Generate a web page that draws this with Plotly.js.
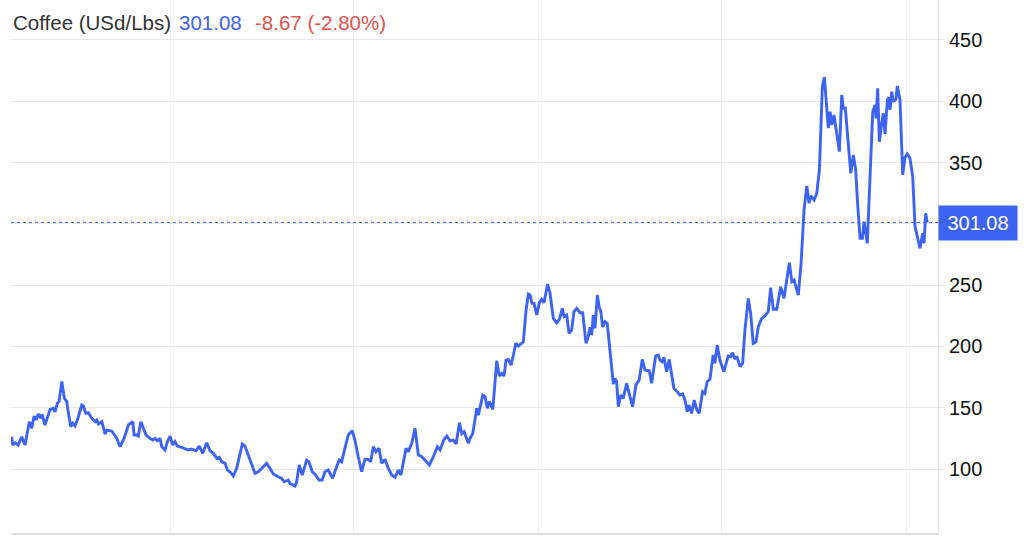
<!DOCTYPE html>
<html>
<head>
<meta charset="utf-8">
<script src="https://cdn.plot.ly/plotly-3.0.1.min.js"></script>
<style>
  html, body { margin: 0; padding: 0; background: #ffffff; }
  #chart { width: 1024px; height: 545px; }
</style>
</head>
<body>
<div id="chart"></div>
<script>
// Time in decimal years
const times = [
  2016.279,2016.290,2016.315,2016.351,2016.388,2016.424,2016.471,2016.497,2016.522,2016.543,
  2016.568,2016.595,2016.609,2016.641,2016.696,2016.732,2016.750,2016.775,2016.793,2016.823,
  2016.851,2016.877,2016.895,2016.921,2016.942,2016.967,2016.992,2017.040,2017.058,2017.084,
  2017.112,2017.149,2017.185,2017.203,2017.221,2017.258,2017.293,2017.312,2017.366,2017.402,
  2017.421,2017.457,2017.500,2017.547,2017.595,2017.609,2017.638,2017.655,2017.682,2017.710,
  2017.739,2017.783,2017.812,2017.837,2017.862,2017.891,2017.910,2017.946,2017.971,2018.000,
  2018.029,2018.054,2018.079,2018.127,2018.163,2018.199,2018.236,2018.283,2018.318,2018.355,
  2018.399,2018.435,2018.471,2018.508,2018.536,2018.562,2018.598,2018.623,2018.660,2018.688,
  2018.725,2018.761,2018.786,2018.815,2018.851,2018.888,2018.924,2018.960,2018.997,2019.051,
  2019.087,2019.123,2019.177,2019.214,2019.242,2019.286,2019.304,2019.359,2019.377,2019.405,
  2019.438,2019.486,2019.511,2019.547,2019.584,2019.620,2019.655,2019.685,2019.721,2019.768,
  2019.812,2019.840,2019.866,2019.902,2019.938,2019.982,2020.011,2020.047,2020.084,2020.120,
  2020.155,2020.182,2020.210,2020.239,2020.272,2020.301,2020.337,2020.373,2020.410,2020.446,
  2020.482,2020.511,2020.565,2020.590,2020.627,2020.663,2020.699,2020.736,2020.772,2020.818,
  2020.862,2020.905,2020.935,2020.978,2021.008,2021.043,2021.079,2021.109,2021.145,2021.171,
  2021.196,2021.225,2021.242,2021.261,2021.290,2021.334,2021.351,2021.399,2021.424,2021.449,
  2021.471,2021.508,2021.551,2021.579,2021.605,2021.630,2021.652,2021.677,2021.707,2021.732,
  2021.758,2021.786,2021.812,2021.840,2021.870,2021.895,2021.913,2021.935,2021.957,2021.986,
  2022.014,2022.040,2022.065,2022.105,2022.130,2022.166,2022.203,2022.232,2022.264,2022.283,
  2022.312,2022.337,2022.366,2022.391,2022.421,2022.457,2022.486,2022.522,2022.547,2022.565,
  2022.584,2022.601,2022.620,2022.645,2022.666,2022.682,2022.703,2022.728,2022.753,2022.783,
  2022.819,2022.837,2022.855,2022.873,2022.899,2022.927,2022.964,2023.000,2023.029,2023.065,
  2023.101,2023.134,2023.163,2023.210,2023.236,2023.279,2023.308,2023.326,2023.351,2023.370,
  2023.399,2023.427,2023.453,2023.478,2023.514,2023.543,2023.573,2023.598,2023.623,2023.641,
  2023.671,2023.699,2023.725,2023.753,2023.790,2023.815,2023.840,2023.870,2023.905,2023.924,
  2023.949,2023.978,2024.022,2024.068,2024.095,2024.116,2024.141,2024.166,2024.196,2024.225,
  2024.250,2024.286,2024.312,2024.340,2024.370,2024.395,2024.432,2024.467,2024.503,2024.529,
  2024.558,2024.595,2024.638,2024.674,2024.703,2024.732,2024.758,2024.783,2024.829,2024.859,
  2024.891,2024.921,2024.946,2024.964,2025.000,2025.029,2025.058,2025.090,2025.112,2025.138,
  2025.155,2025.174,2025.192,2025.217,2025.247,2025.275,2025.301,2025.318,2025.340,2025.373,
  2025.399,2025.427,2025.453,2025.471,2025.500,2025.525,2025.543,2025.579,2025.609,2025.638,
  2025.663,2025.674,2025.692,2025.710,2025.736,2025.753,2025.772,2025.797,2025.815,2025.826,
  2025.845,2025.862,2025.891,2025.905,2025.935,2025.964,2025.989,2026.014,2026.043,2026.073,
  2026.098,2026.123,2026.152,2026.182,2026.196,2026.214,2026.231
];

// Price in US cents per pound
const prices = [
  126.3,119.6,121.4,119.6,126.3,119.6,138.6,133.2,143.2,140.0,
  144.9,141.3,144.6,135.9,148.7,149.5,146.7,153.6,155.0,171.5,
  157.7,155.0,145.4,134.5,137.3,135.1,140.0,152.2,151.4,145.4,
  145.9,141.3,138.6,140.0,136.7,138.6,128.5,131.8,131.0,126.3,
  125.0,118.2,125.0,135.9,138.6,127.7,127.7,126.9,138.6,133.2,
  127.7,125.0,123.6,125.0,123.0,125.0,118.2,115.5,122.3,126.9,
  119.6,122.3,118.7,117.7,116.9,115.5,116.3,114.9,118.7,112.8,
  121.4,114.9,112.8,108.7,109.5,105.9,104.6,99.2,97.0,94.3,
  100.6,111.4,120.4,118.7,111.4,104.6,96.5,97.8,100.6,104.6,
  100.6,95.9,93.7,92.4,89.6,91.0,88.3,86.1,89.6,103.3,
  95.1,107.3,105.9,97.8,95.1,91.0,91.0,97.8,99.2,92.4,
  101.9,107.3,105.9,116.9,127.7,131.2,123.6,110.0,97.8,107.9,
  107.9,105.9,118.2,114.1,116.9,104.6,107.9,100.6,95.1,93.2,
  99.2,95.1,116.9,114.1,121.0,133.2,111.4,110.0,107.3,103.3,
  110.0,118.2,115.5,124.2,126.9,123.0,123.6,120.4,137.8,128.9,
  130.4,125.0,121.0,125.0,128.9,149.5,144.0,160.3,159.0,149.5,
  155.0,148.7,188.3,175.9,178.0,175.9,188.9,189.4,184.8,193.0,
  202.5,200.3,202.0,203.8,229.7,242.7,241.9,235.1,235.1,225.6,
  235.7,238.4,235.7,250.9,243.8,222.9,219.3,222.1,231.1,224.3,
  225.6,210.7,213.4,228.3,231.1,227.5,227.5,202.5,208.0,215.6,
  209.3,225.6,214.8,241.9,231.9,229.1,216.0,220.2,218.8,194.0,
  169.2,174.0,171.2,150.8,160.3,157.6,169.9,159.0,150.8,168.5,
  172.6,189.4,180.8,180.2,169.9,192.2,193.0,188.9,187.5,191.1,
  179.4,189.4,178.0,165.8,163.1,160.3,161.2,156.3,146.7,152.2,
  145.4,156.3,148.7,145.4,163.1,161.7,171.2,173.2,193.0,186.2,
  201.1,188.9,179.4,192.2,191.6,194.9,190.3,191.1,183.5,186.2,
  213.4,239.2,227.0,202.5,203.8,216.1,222.9,224.8,228.3,247.9,
  230.3,230.3,248.7,239.2,254.2,268.3,252.8,254.2,241.9,267.8,
  311.3,330.9,316.8,322.7,319.5,324.9,343.9,411.9,419.6,398.4,
  378.0,391.5,380.6,388.8,371.1,358.9,405.1,394.3,394.3,365.7,
  341.2,356.2,343.9,319.5,288.2,288.2,301.8,284.1,343.9,391.5,
  397.0,386.1,410.6,367.0,382.0,390.2,373.3,401.1,403.2,392.9,
  407.8,399.7,401.6,412.5,401.1,339.9,354.3,357.0,353.5,338.5,
  297.7,289.5,280.0,292.3,284.1,308.6,301.08
];

const yTicks = [100, 150, 200, 250, 300, 350, 400, 450];
const yTickText = ['100', '150', '200', '250', '', '350', '400', '450'];
const lastPrice = 301.08;
const titleName = 'Coffee (USd/Lbs)';
const titlePrice = '301.08';
const titleChange = '-8.67 (-2.80%)';

function yearToDate(t) {
  const y = Math.floor(t);
  const a = Date.UTC(y, 0, 1), b = Date.UTC(y + 1, 0, 1);
  return new Date(a + (t - y) * (b - a)).toISOString().slice(0, 19).replace('T', ' ');
}

const dates = times.map(yearToDate);

const W = 1024, L = 11, R = 938;
const px = p => (p - L) / (R - L);

const blue = '#3d63f2';

const trace = {
  type: 'scatter',
  mode: 'lines',
  x: dates,
  y: prices,
  line: { color: blue, width: 2.9 },
  hoverinfo: 'skip'
};

const layout = {
  width: 1024,
  height: 545,
  margin: { l: L, r: W - R, t: 0, b: 12 },
  paper_bgcolor: '#ffffff',
  plot_bgcolor: '#ffffff',
  showlegend: false,
  font: { family: 'Liberation Sans, Arial, sans-serif', color: '#111111', size: 20 },
  xaxis: {
    type: 'date',
    range: [yearToDate(2016.272), yearToDate(2026.348)],
    showgrid: true,
    gridcolor: '#edf0f2',
    gridwidth: 1,
    tick0: '2018-01-01',
    dtick: 'M24',
    showticklabels: false,
    ticks: '',
    showline: true,
    linecolor: '#dedede',
    linewidth: 2,
    zeroline: false,
    fixedrange: true
  },
  yaxis: {
    side: 'right',
    range: [47.8, 482.6],
    tickvals: yTicks,
    ticktext: yTickText,
    showgrid: true,
    gridcolor: '#e8e8e8',
    gridwidth: 1,
    ticks: 'outside',
    ticklen: 6,
    tickcolor: '#e8e8e8',
    tickfont: { size: 20, color: '#111111' },
    showline: true,
    linecolor: '#e8e8e8',
    linewidth: 1,
    zeroline: false,
    fixedrange: true
  },
  shapes: [
    {
      type: 'line', xref: 'paper', yref: 'y',
      x0: 0, x1: 1, y0: lastPrice, y1: lastPrice,
      line: { color: blue, width: 1, dash: 'dot' }
    }
  ],
  annotations: [
    {
      xref: 'paper', yref: 'y', x: 1, y: lastPrice,
      xanchor: 'left', yanchor: 'middle',
      text: titlePrice, showarrow: false,
      font: { size: 20, color: '#ffffff' },
      bgcolor: blue, width: 74, height: 30, borderpad: 2, align: 'center'
    },
    {
      xref: 'paper', yref: 'paper', x: px(11), y: 1 - 22 / 533,
      xanchor: 'left', yanchor: 'middle', showarrow: false,
      text: titleName, font: { size: 20.5, color: '#333333' }
    },
    {
      xref: 'paper', yref: 'paper', x: px(177), y: 1 - 22 / 533,
      xanchor: 'left', yanchor: 'middle', showarrow: false,
      text: titlePrice, font: { size: 20.5, color: blue }
    },
    {
      xref: 'paper', yref: 'paper', x: px(253), y: 1 - 22 / 533,
      xanchor: 'left', yanchor: 'middle', showarrow: false,
      text: titleChange, font: { size: 20.5, color: '#e0544c' }
    }
  ]
};

Plotly.newPlot('chart', [trace], layout, { displayModeBar: false, staticPlot: true });
</script>
</body>
</html>
